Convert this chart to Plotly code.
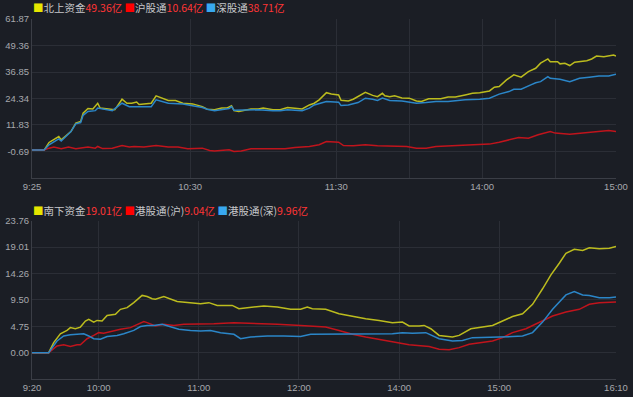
import plotly.graph_objects as go

# ---------------- top panel: northbound (北向) ----------------
# x = trading minutes since 09:30 with lunch removed (09:25 -> -5, 13:00 -> 120)
north_t = [-5, 0, 2, 6, 7, 11, 13, 15, 16, 18, 20, 22, 23, 28, 29, 32, 34, 36, 38, 39, 42, 44, 46, 48,
           51, 54, 57, 61, 65, 67, 70, 73, 75, 77, 78, 80, 85, 88, 90, 94, 97, 100, 103, 106, 109, 111,
           113, 116, 118, 121, 122, 125, 127, 129, 132, 135, 137, 139, 140, 142, 144, 147, 150, 153,
           155, 158, 163, 166, 169, 173, 176, 179, 183, 185, 187, 190, 193, 196, 199, 202, 204, 207,
           208, 211, 212, 214, 216, 218, 223, 225, 227, 230, 234, 235]
north_v = [0, 0, 3.6, 6.4, 4.8, 8.7, 12.7, 13.5, 17.4, 19.6, 19.4, 22.1, 19.8, 19.4, 19.0, 24.0, 22.1,
           22.1, 22.7, 21.5, 21.8, 22.1, 25.6, 24.8, 23.4, 23.4, 22.1, 21.8, 20.5, 19.3, 19.0, 19.8,
           19.8, 20.9, 18.6, 18.2, 19.4, 19.4, 19.8, 19.0, 19.0, 20.1, 19.6, 19.4, 21.3, 22.1, 23.7,
           27.1, 26.5, 26.0, 23.5, 23.2, 24.0, 25.2, 27.3, 25.8, 25.2, 26.8, 25.6, 25.2, 25.6, 24.6,
           24.5, 23.2, 22.9, 24.2, 24.2, 25.0, 25.0, 26.0, 26.8, 27.1, 27.9, 29.7, 30.0, 33.1, 35.5,
           34.4, 37.0, 38.6, 41.0, 43.0, 41.7, 41.7, 40.7, 41.0, 39.9, 41.5, 42.2, 43.0, 44.4, 44.1,
           44.9, 44.4]

sh_t = [-5, 0, 2, 4, 7, 10, 13, 15, 18, 21, 22, 24, 28, 32, 35, 37, 41, 46, 48, 51, 55, 59, 65, 68,
        70, 76, 78, 81, 85, 88, 95, 99, 103, 109, 113, 116, 121, 123, 127, 132, 137, 143, 149, 153,
        157, 161, 169, 177, 183, 187, 191, 195, 199, 203, 208, 210, 216, 221, 227, 232, 235]
sh_v = [0, 0, 0.9, 1.4, 0.6, 1.4, 0.6, 0.9, 1.4, 0.9, 1.7, 0.7, 0.9, 2.1, 1.4, 1.7, 1.4, 2.1, 1.9,
        1.4, 1.4, 0.6, 0.9, -0.2, -0.4, 0.1, -0.7, -0.4, 0.6, 0.6, 0.4, 0.6, 1.2, 1.7, 2.5, 4.0, 3.7,
        2.1, 2.0, 2.5, 2.0, 1.7, 1.7, 0.9, 0.9, 1.7, 2.0, 2.5, 2.8, 3.7, 4.8, 5.9, 5.6, 7.2, 8.7, 8.0,
        7.5, 8.0, 8.7, 9.2, 8.7]

sz_t = [-5, 0, 2, 6, 7, 11, 13, 15, 16, 18, 21, 22, 28, 32, 35, 39, 44, 46, 51, 57, 61, 65, 67, 70,
        76, 77, 78, 85, 88, 94, 97, 100, 106, 109, 111, 116, 121, 122, 125, 129, 132, 135, 137, 139,
        142, 147, 153, 157, 161, 166, 173, 179, 183, 187, 191, 193, 196, 200, 202, 204, 207, 208,
        212, 216, 220, 224, 228, 232, 235]
sz_v = [0, 0, 2.5, 5.3, 4.3, 8.7, 12.4, 13.0, 16.4, 18.2, 18.6, 19.8, 18.6, 22.1, 20.5, 20.5, 20.5,
        23.7, 22.1, 21.7, 21.0, 20.1, 19.3, 18.6, 19.6, 20.5, 18.8, 19.0, 19.0, 18.6, 18.6, 19.0,
        18.6, 19.8, 21.3, 22.9, 22.6, 21.0, 21.3, 22.4, 24.5, 24.0, 23.4, 24.5, 23.4, 23.2, 22.1,
        22.4, 22.9, 22.9, 23.7, 24.0, 24.5, 26.4, 27.6, 28.7, 28.7, 30.8, 31.8, 32.3, 34.7, 33.9,
        33.4, 32.3, 33.9, 34.4, 35.0, 35.0, 35.8]

top_tickvals = [-5, 60, 120, 150, 180, 210, 235]
top_ticktext = ["9:25", "10:30", "11:30", "", "14:00", "", "15:00"]
top_yticks = [-0.69, 11.83, 24.34, 36.85, 49.36, 61.87]
top_yticktext = ["-0.69", "11.83", "24.34", "36.85", "49.36", "61.87"]

# ---------------- bottom panel: southbound (南向) ----------------
# x = trading minutes since 09:20 with lunch removed (13:00 -> 160)
south_t = [0, 10, 13, 17, 21, 23, 26, 29, 32, 34, 37, 39, 42, 45, 50, 53, 57, 61, 66, 69, 72, 74, 79,
           83, 87, 90, 95, 101, 106, 111, 120, 124, 129, 139, 147, 155, 161, 165, 168, 176, 184, 192,
           200, 208, 216, 222, 226, 232, 235, 239, 244, 252, 256, 263, 268, 276, 282, 288, 294, 300,
           306, 311, 316, 320, 325, 330, 334, 340, 346, 350]
south_v = [0, 0, 1.8, 3.4, 4.0, 4.5, 4.3, 4.6, 5.7, 6.0, 5.5, 5.8, 5.7, 6.7, 6.9, 7.8, 8.1, 9.0, 10.3,
           10.1, 9.7, 9.6, 10.1, 9.7, 9.2, 9.1, 9.0, 8.8, 9.0, 8.5, 8.5, 7.9, 8.1, 8.4, 8.2, 7.8, 7.8,
           8.2, 7.9, 7.8, 7.0, 6.5, 6.1, 5.8, 5.4, 5.5, 4.8, 4.8, 4.9, 4.3, 3.1, 2.8, 3.1, 4.3, 4.5,
           4.9, 5.7, 6.5, 7.0, 8.7, 11.5, 14.0, 16.1, 17.9, 18.6, 18.4, 18.9, 18.7, 18.8, 19.1]

hksh_t = [0, 10, 15, 19, 23, 27, 29, 33, 37, 40, 43, 47, 53, 59, 63, 67, 69, 74, 79, 85, 91, 99, 109,
          121, 133, 147, 161, 173, 176, 184, 192, 200, 208, 220, 226, 238, 244, 250, 256, 262, 270,
          276, 282, 288, 296, 304, 312, 320, 328, 334, 340, 350]
hksh_v = [0, 0, 1.2, 1.4, 1.1, 1.4, 1.4, 2.5, 3.1, 3.6, 3.5, 3.8, 4.2, 4.5, 5.1, 5.6, 5.4, 4.8, 5.1,
          4.9, 5.1, 5.1, 5.2, 5.4, 5.3, 5.1, 4.9, 4.6, 4.6, 4.0, 3.3, 2.8, 2.4, 1.8, 1.4, 1.1, 0.6,
          0.5, 0.9, 1.5, 1.9, 2.1, 2.7, 3.6, 4.3, 5.5, 6.6, 7.3, 7.8, 8.7, 9.0, 9.1]

hksz_t = [0, 10, 15, 19, 23, 29, 31, 34, 37, 41, 45, 51, 55, 61, 65, 69, 73, 78, 83, 88, 95, 101, 107,
          113, 121, 125, 131, 141, 151, 161, 167, 173, 180, 192, 208, 216, 222, 228, 236, 240, 244,
          252, 258, 264, 272, 280, 288, 294, 300, 306, 312, 320, 325, 330, 334, 340, 346, 350]
hksz_v = [0, 0, 2.1, 3.0, 3.2, 3.3, 3.4, 3.0, 2.5, 2.4, 2.9, 3.1, 3.4, 4.0, 4.7, 4.9, 4.9, 5.1, 4.6,
          4.2, 4.0, 3.9, 4.0, 3.6, 3.3, 2.5, 2.8, 3.0, 3.0, 2.9, 3.3, 3.3, 3.3, 3.3, 3.3, 3.4, 3.6,
          3.5, 3.6, 3.1, 2.5, 2.1, 2.2, 2.7, 2.7, 2.8, 2.9, 3.0, 3.6, 5.5, 7.8, 10.4, 11.0, 10.4,
          10.3, 9.9, 9.9, 10.0]

bot_tickvals = [0, 40, 100, 160, 220, 280, 350]
bot_ticktext = ["9:20", "10:00", "11:00", "12:00", "14:00", "15:00", "16:10"]
bot_yticks = [0, 4.75, 9.50, 14.26, 19.01, 23.76]
bot_yticktext = ["0.00", "4.75", "9.50", "14.26", "19.01", "23.76"]

top_names = ["北上资金", "沪股通", "深股通"]
top_totals = ["49.36亿", "10.64亿", "38.71亿"]
bot_names = ["南下资金", "港股通(沪)", "港股通(深)"]
bot_totals = ["19.01亿", "9.04亿", "9.96亿"]

# ---------------- styling ----------------
BG = "#1b1e25"
GRID = "#2b2e36"
AXLINE = "#3b3e46"
TICKC = "#a6a8ad"
LINE_COLORS = ["#bcbc1e", "#c0141c", "#2b86c8"]
SWATCH = ["#e6e600", "#ff0000", "#38a8f0"]
NAMEC = "#c6c7ca"
VALC = "#ff3535"
NUMFONT = "Liberation Sans, Arial, sans-serif"
CJKFONT = "Noto Sans CJK SC, sans-serif"

fig = go.Figure()
top_series = [(north_t, north_v), (sh_t, sh_v), (sz_t, sz_v)]
bot_series = [(south_t, south_v), (hksh_t, hksh_v), (hksz_t, hksz_v)]
for i, (t, v) in enumerate(top_series):
    fig.add_trace(go.Scatter(x=t, y=v, mode="lines", xaxis="x", yaxis="y",
                             line=dict(color=LINE_COLORS[i], width=1.5), name=top_names[i],
                             showlegend=False, hoverinfo="skip"))
for i, (t, v) in enumerate(bot_series):
    fig.add_trace(go.Scatter(x=t, y=v, mode="lines", xaxis="x2", yaxis="y2",
                             line=dict(color=LINE_COLORS[i], width=1.5), name=bot_names[i],
                             showlegend=False, hoverinfo="skip"))

axis_common = dict(showgrid=True, gridcolor=GRID, gridwidth=1, zeroline=False,
                   showline=True, linecolor=AXLINE, linewidth=1, ticks="", automargin=False,
                   tickfont=dict(family=NUMFONT, size=9.5, color=TICKC), fixedrange=True)

fig.update_layout(
    width=633, height=397,
    margin=dict(l=32, r=17, t=19, b=18),
    paper_bgcolor=BG, plot_bgcolor=BG,
    showlegend=False,
    xaxis=dict(domain=[0, 1], anchor="y", range=[-5, 235], tickmode="array",
               tickvals=top_tickvals, ticktext=top_ticktext, **axis_common),
    yaxis=dict(domain=[0.5583, 1], anchor="x", range=[-13.2, 61.87], tickmode="array",
               tickvals=top_yticks, ticktext=top_yticktext, **axis_common),
    xaxis2=dict(domain=[0, 1], anchor="y2", range=[0, 350], tickmode="array",
                tickvals=bot_tickvals, ticktext=bot_ticktext, **axis_common),
    yaxis2=dict(domain=[0, 0.4397], anchor="x2", range=[-4.75, 23.76], tickmode="array",
                tickvals=bot_yticks, ticktext=bot_yticktext, **axis_common),
)


def legend_text(names, totals):
    parts = []
    for c, n, v in zip(SWATCH, names, totals):
        parts.append(f"<span style='color:{c}'>■</span><span style='color:{NAMEC}'>{n}</span>"
                     f"<span style='color:{VALC}'>{v}</span>")
    return " ".join(parts)


fig.add_annotation(text=legend_text(top_names, top_totals), xref="paper", yref="paper",
                   x=0, y=1.032, xanchor="left", yanchor="middle", showarrow=False,
                   font=dict(family=CJKFONT, size=10.5, color=NAMEC), borderpad=0)
fig.add_annotation(text=legend_text(bot_names, bot_totals), xref="paper", yref="paper",
                   x=0, y=0.468, xanchor="left", yanchor="middle", showarrow=False,
                   font=dict(family=CJKFONT, size=10.5, color=NAMEC), borderpad=0)

fig.write_html("out.html", config={"displayModeBar": False},
               post_script="document.body.style.margin='0px';document.body.style.background='%s';" % BG)
